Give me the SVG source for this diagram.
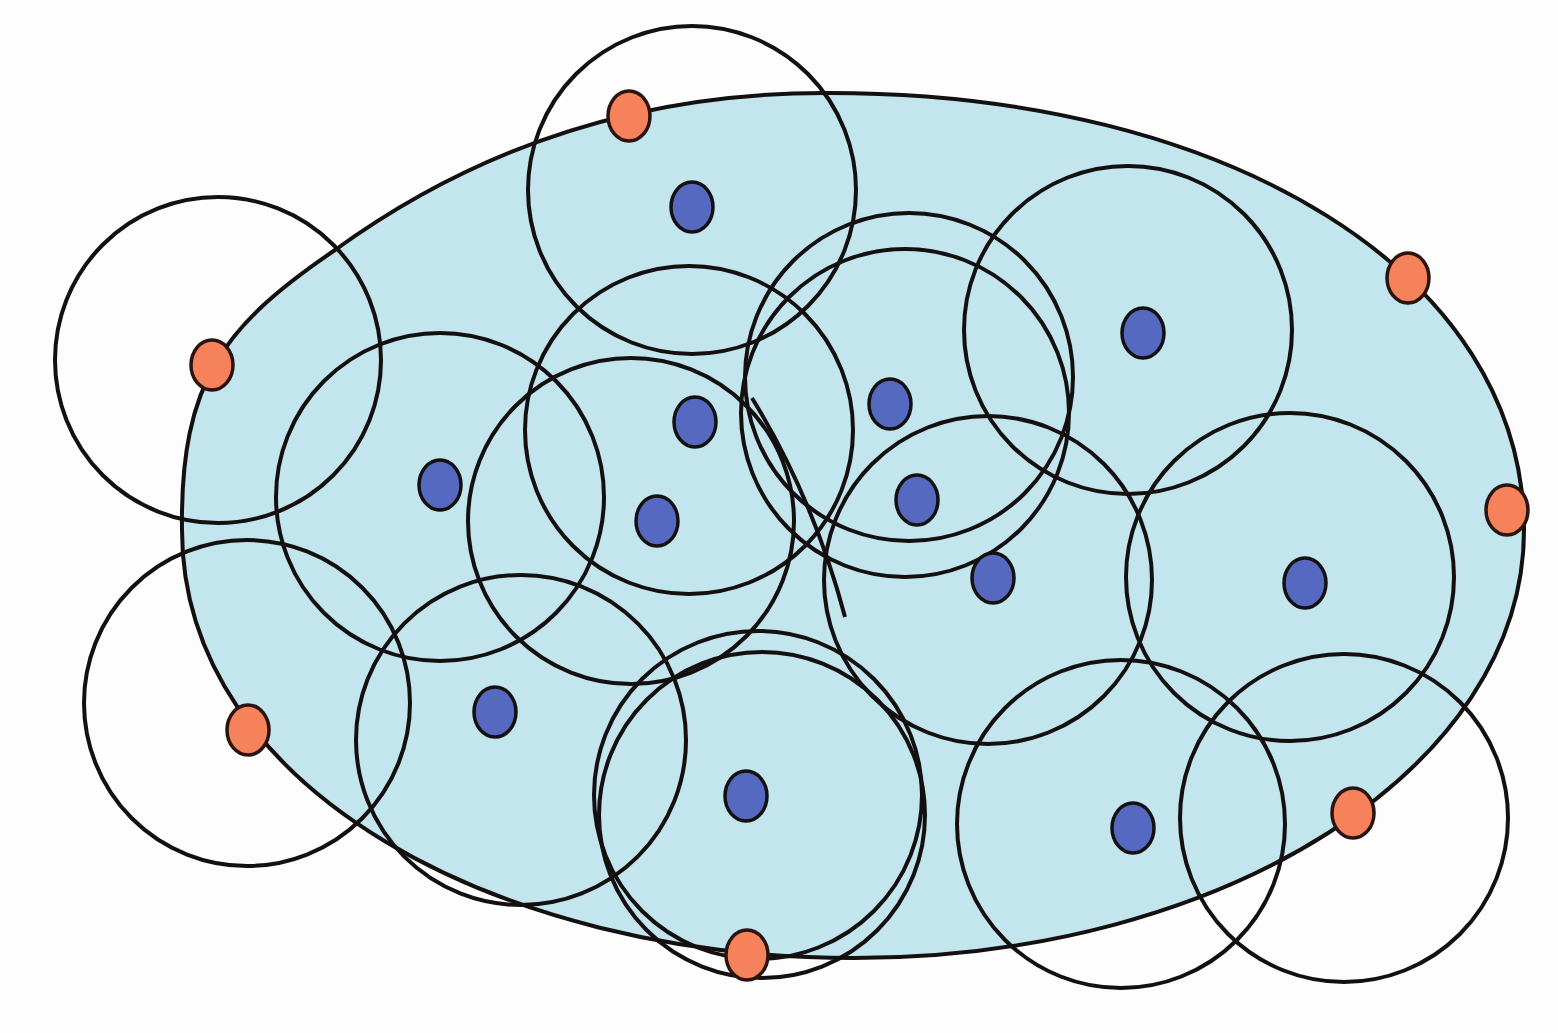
<svg xmlns="http://www.w3.org/2000/svg" width="1558" height="1033" viewBox="0 0 1558 1033">
<style>
.c{fill:none;stroke:#141010;stroke-width:4}
.b{fill:#5669c0;stroke:#141010;stroke-width:3.5}
.o{fill:#f5825b;stroke:#2a1410;stroke-width:3.5}
</style>
<rect width="1558" height="1033" fill="#fdfdfd"/>
<g id="region">
<path d="M182,530 C180,380 225,325 335,250 C492,136 660,92 830,93 C1230,93 1524,275 1524,530 C1524,768 1224,958 854,958 C500,958 182,790 182,530 Z" fill="#c2e5ee" stroke="#141010" stroke-width="4"/>
</g>
<g id="ranges">
<circle class="c" cx="692" cy="190" r="164"/>
<circle class="c" cx="218" cy="360" r="163"/>
<circle class="c" cx="247" cy="703" r="163"/>
<circle class="c" cx="440" cy="497" r="164"/>
<circle class="c" cx="689" cy="430" r="164"/>
<circle class="c" cx="631" cy="521" r="163"/>
<circle class="c" cx="521" cy="740" r="165"/>
<circle class="c" cx="758" cy="795" r="164"/>
<circle class="c" cx="762" cy="815" r="163"/>
<circle class="c" cx="909" cy="377" r="164"/>
<circle class="c" cx="905" cy="413" r="164"/>
<circle class="c" cx="988" cy="580" r="164"/>
<circle class="c" cx="1128" cy="330" r="164"/>
<circle class="c" cx="1290" cy="577" r="164"/>
<circle class="c" cx="1121" cy="824" r="164"/>
<circle class="c" cx="1344" cy="818" r="164"/>
<path class="c" d="M752,398 C790,460 822,530 845,617"/>
</g>
<g id="sensors">
<ellipse class="b" cx="692" cy="207" rx="21" ry="25"/>
<ellipse class="b" cx="440" cy="485" rx="21" ry="25"/>
<ellipse class="b" cx="695" cy="422" rx="21" ry="25"/>
<ellipse class="b" cx="657" cy="521" rx="21" ry="25"/>
<ellipse class="b" cx="890" cy="404" rx="21" ry="25"/>
<ellipse class="b" cx="917" cy="500" rx="21" ry="25"/>
<ellipse class="b" cx="993" cy="578" rx="21" ry="25"/>
<ellipse class="b" cx="1143" cy="333" rx="21" ry="25"/>
<ellipse class="b" cx="1305" cy="583" rx="21" ry="25"/>
<ellipse class="b" cx="495" cy="712" rx="21" ry="25"/>
<ellipse class="b" cx="746" cy="796" rx="21" ry="25"/>
<ellipse class="b" cx="1133" cy="828" rx="21" ry="25"/>
</g>
<g id="boundary-nodes">
<ellipse class="o" cx="629" cy="116" rx="21" ry="25"/>
<ellipse class="o" cx="212" cy="365" rx="21" ry="25"/>
<ellipse class="o" cx="1408" cy="278" rx="21" ry="25"/>
<ellipse class="o" cx="1507" cy="510" rx="21" ry="25"/>
<ellipse class="o" cx="248" cy="730" rx="21" ry="25"/>
<ellipse class="o" cx="1353" cy="813" rx="21" ry="25"/>
<ellipse class="o" cx="747" cy="955" rx="21" ry="25"/>
</g>
</svg>
